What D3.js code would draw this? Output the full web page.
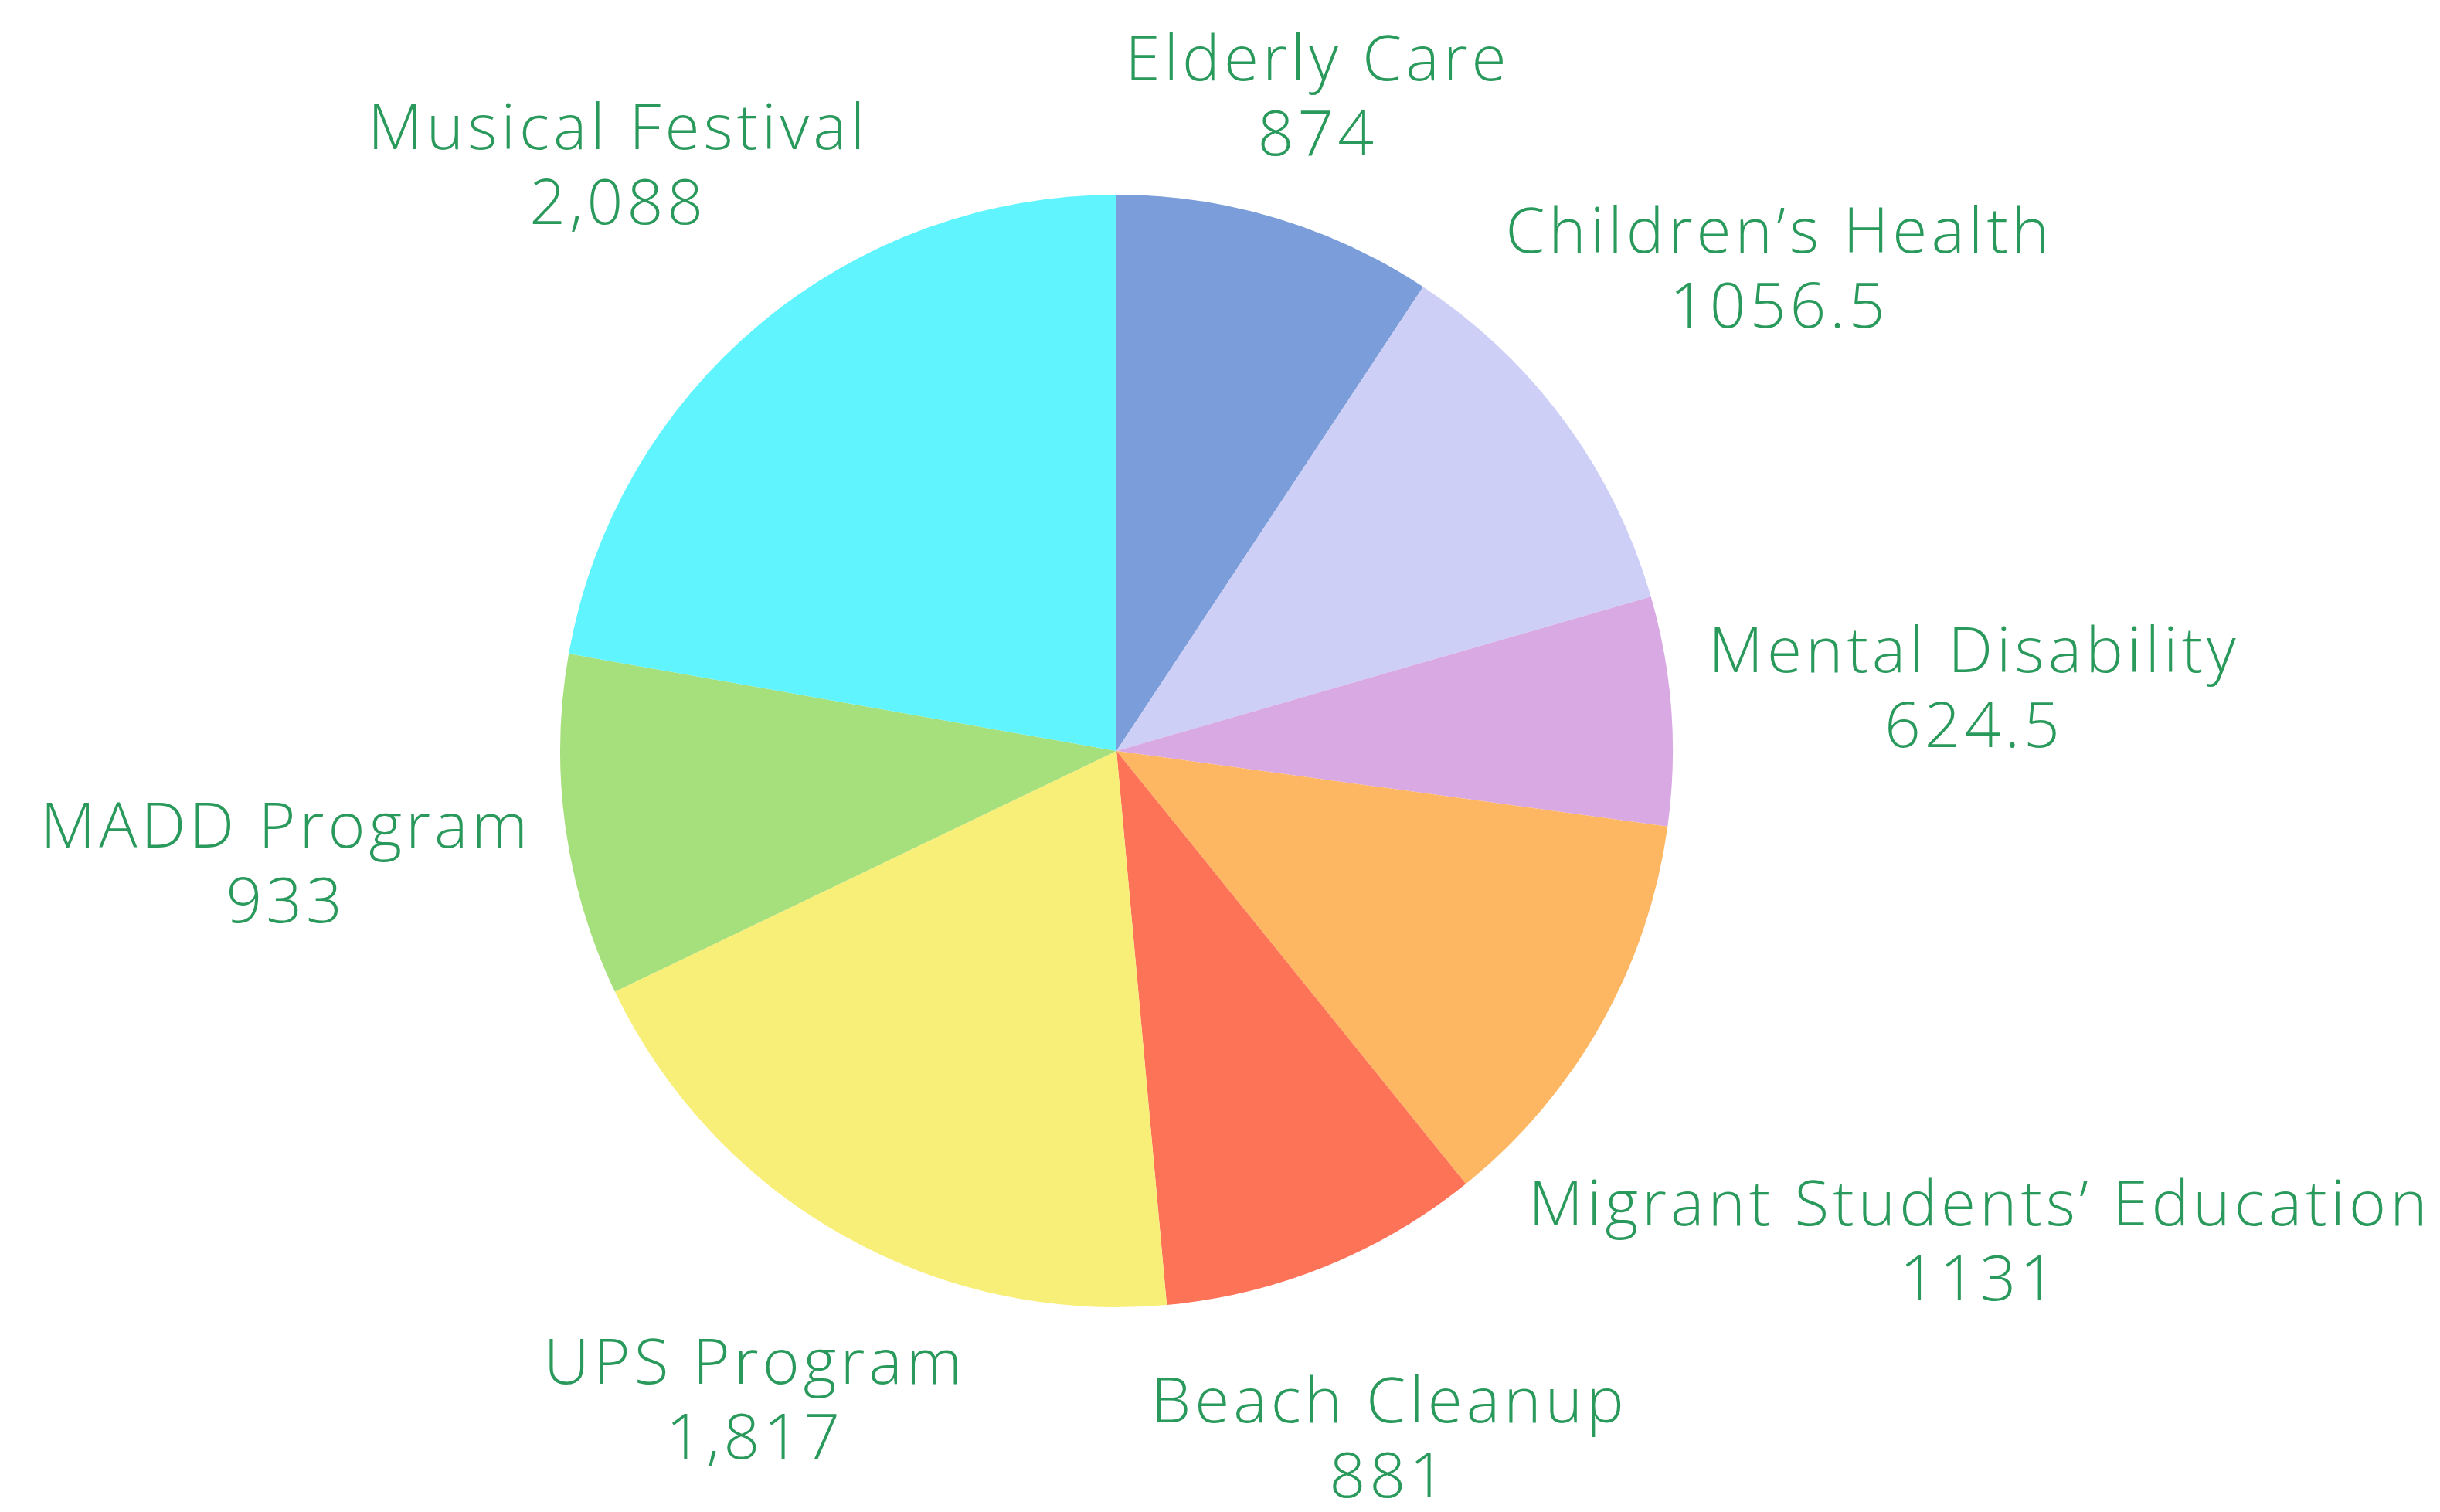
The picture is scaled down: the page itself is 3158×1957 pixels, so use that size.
<!DOCTYPE html>
<html>
<head>
<meta charset="utf-8">
<script src="https://cdn.jsdelivr.net/npm/d3@7"></script>
<style>
  html, body { margin: 0; padding: 0; background: #fff; }
  svg { display: block; }
</style>
</head>
<body>
<div id="chart"></div>
<script>
const categories = ["Elderly Care", "Children’s Health", "Mental Disability", "Migrant Students’ Education",
    "Beach Cleanup", "UPS Program", "MADD Program", "Musical Festival"];
const values = [874, 1056.5, 624.5, 1131, 881, 1817, 933, 2088];
const valueLabels = ["874", "1056.5", "624.5", "1131", "881", "1,817", "933", "2,088"];
const sliceColors = ["#7b9dd9", "#cdcff6", "#d9a9e4", "#fdb762", "#fd7357", "#f8ef78", "#a6e07c", "#5ff4fe"];

const width = 3158, height = 1957;
const cx = 1445, cy = 972, radius = 720;
const fontSize = 82, lineHeight = 97;

const svg = d3.select("#chart")
    .append("svg")
    .attr("width", width)
    .attr("height", height);

const g = svg.append("g")
    .attr("transform", `translate(${cx},${cy})`);

const pie = d3.pie().sort(null).value(d => d);
const arcs = pie(values);

const arc = d3.arc()
    .innerRadius(0)
    .outerRadius(radius);

g.append("g")
    .selectAll("path")
    .data(arcs)
    .join("path")
    .attr("fill", (d, i) => sliceColors[i])
    .attr("d", arc);

// labels sit outside the pie along the slice's mid angle
const labels = g.append("g")
    .selectAll("text")
    .data(arcs)
    .join("text")
    .attr("text-anchor", "middle")
    .style("font-family", "'Open Sans', Lato, sans-serif")
    .style("font-weight", 300)
    .style("letter-spacing", "5px")
    .style("font-size", fontSize + "px")
    .style("fill", "#2a9a5c");

labels.append("tspan")
    .attr("x", 0)
    .attr("dy", 0)
    .text((d, i) => categories[i]);

labels.append("tspan")
    .attr("x", 0)
    .attr("dy", lineHeight)
    .text((d, i) => valueLabels[i]);

labels.attr("transform", function(d) {
    const w = this.getBBox().width;
    const a = (d.startAngle + d.endAngle) / 2;
    const s = Math.abs(Math.sin(a)), c = Math.abs(Math.cos(a));
    const dist = radius + 50 + (w / 2) * s + 75 * Math.pow(c, 4);
    // side labels sit a little higher
    const lift = 22 * s * s;
    return `translate(${dist * Math.sin(a)},${-dist * Math.cos(a) - lift})`;
});
</script>
</body>
</html>
